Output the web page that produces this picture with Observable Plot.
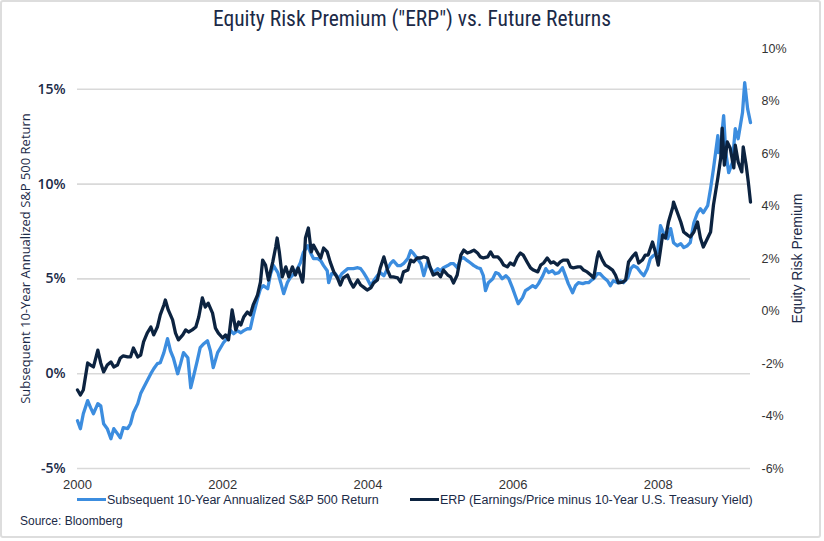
<!DOCTYPE html>
<html>
<head>
<meta charset="utf-8">
<script src="https://cdn.jsdelivr.net/npm/d3@7"></script>
<script src="https://cdn.jsdelivr.net/npm/@observablehq/plot@0.6"></script>
<style>
  body { margin: 0; background: #fff; }
  #wrap { position: relative; width: 824px; height: 541px; overflow: hidden; background: #fff;
          font-family: "Liberation Sans", Arial, sans-serif; color: #1b2a47; }
  #frame { position: absolute; left: 0px; top: 0px; width: 817px; height: 534px;
           border: 2px solid #dddddd; border-radius: 3px; }
  #title { position: absolute; left: 0; top: 6px; width: 824px; text-align: center;
           font-family: "Liberation Sans Narrow", "Roboto Condensed", Roboto, sans-serif;
           font-size: 21.5px; color: #1b2a47; }
  #chart { position: absolute; left: 0; top: 40px; }
  .leg { position: absolute; top: 493px; font-size: 12.5px; color: #1b2a47; white-space: nowrap; }
  .sw { display: inline-block; width: 29px; height: 3px; vertical-align: middle; margin-right: 1px; position: relative; top: -1px; }
  #source { position: absolute; left: 20px; top: 514px; font-size: 12px; color: #1b2a47; }
</style>
</head>
<body>
<div id="wrap">
  <div id="frame"></div>
  <div id="title">Equity Risk Premium ("ERP") vs. Future Returns</div>
  <div id="chart"></div>
  <div class="leg" style="left:77px"><span class="sw" style="background:#3c8ddf"></span>Subsequent 10-Year Annualized S&amp;P 500 Return</div>
  <div class="leg" style="left:410px"><span class="sw" style="background:#0c2340"></span>ERP (Earnings/Price minus 10-Year U.S. Treasury Yield)</div>
  <div id="source">Source: Bloomberg</div>
</div>
<script>
// ---- Data ----
const retYears = [
  2000.00,2000.04,2000.08,2000.14,2000.18,2000.22,2000.28,2000.32,2000.36,2000.41,2000.46,2000.50,2000.55,2000.59,2000.63,2000.69,2000.73,2000.77,2000.83,2000.87,2000.91,2000.96,
  2001.01,2001.05,2001.10,2001.14,2001.19,2001.24,2001.28,2001.32,2001.38,2001.42,2001.46,2001.52,2001.56,2001.60,2001.65,2001.69,2001.74,2001.79,2001.83,2001.87,2001.93,2001.97,
  2002.01,2002.07,2002.11,2002.15,2002.20,2002.25,2002.29,2002.34,2002.38,2002.42,2002.48,2002.52,2002.56,2002.62,2002.66,2002.70,2002.76,2002.80,2002.84,2002.89,2002.93,2002.98,
  2003.03,2003.07,2003.11,2003.17,2003.21,2003.25,2003.31,2003.35,2003.39,2003.44,2003.46,2003.50,2003.55,2003.60,2003.64,2003.72,2003.76,2003.80,2003.86,2003.90,2003.94,2003.99,
  2004.04,2004.08,2004.13,2004.17,2004.22,2004.27,2004.31,2004.35,2004.41,2004.45,2004.49,2004.55,2004.59,2004.63,2004.68,2004.73,2004.77,2004.82,2004.86,2004.90,2004.96,
  2005.00,2005.04,2005.10,2005.14,2005.18,2005.23,2005.28,2005.32,2005.37,2005.41,2005.46,2005.51,2005.55,2005.59,2005.62,2005.66,2005.72,2005.76,2005.80,2005.85,2005.90,2005.94,2005.99,
  2006.03,2006.07,2006.13,2006.17,2006.21,2006.27,2006.31,2006.35,2006.41,2006.45,2006.49,2006.54,2006.58,2006.63,2006.68,2006.72,2006.76,2006.82,2006.86,2006.90,2006.96,
  2007.00,2007.04,2007.07,2007.11,2007.16,2007.20,2007.25,2007.30,2007.34,2007.38,2007.44,2007.48,2007.52,2007.58,2007.62,2007.66,2007.71,2007.76,2007.80,2007.85,2007.89,2007.93,2007.99,
  2008.03,2008.07,2008.13,2008.17,2008.21,2008.26,2008.31,2008.35,2008.40,2008.44,2008.49,2008.54,2008.58,2008.62,2008.68,2008.72,2008.76,2008.82,2008.83,2008.86,2008.90,2008.93,2008.97,
  2009.02,2009.06,2009.10,2009.16,2009.19,2009.23,2009.27
];
const retValues = [
  -2.48,-2.90,-2.11,-1.42,-1.79,-2.11,-1.58,-1.69,-2.64,-2.90,-3.43,-2.90,-3.16,-3.38,-2.85,-2.90,-2.64,-2.06,-1.58,-1.05,-0.74,-0.37,
  0.00,0.26,0.53,0.58,1.11,1.85,1.21,0.84,0.00,0.53,1.11,0.84,-0.74,-0.11,0.69,1.37,1.58,1.74,1.21,0.32,1.11,1.37,
  1.63,1.90,2.27,2.11,2.27,2.16,2.27,2.37,2.37,3.06,3.96,4.48,4.64,4.48,5.27,5.70,5.33,4.80,4.22,4.80,5.06,5.27,
  5.54,5.85,6.38,6.75,6.38,6.07,6.07,5.96,5.70,5.43,4.80,5.27,5.27,5.01,5.27,5.54,5.54,5.54,5.59,5.54,5.33,5.01,
  4.64,4.90,5.17,5.33,5.17,5.54,5.80,5.96,5.70,5.70,5.80,6.07,6.49,6.33,6.07,5.80,5.17,5.85,5.59,5.33,5.54,
  5.43,5.59,5.70,5.80,5.80,5.59,6.07,6.12,5.96,5.85,5.70,5.59,5.54,5.17,4.38,4.80,5.01,5.33,5.27,5.01,5.17,5.01,4.54,
  4.11,3.69,4.01,4.38,4.48,4.64,4.54,4.75,5.17,5.54,5.33,5.43,5.27,5.33,5.59,5.17,4.75,4.27,4.64,4.80,4.75,
  4.80,4.80,4.90,5.01,5.27,5.27,5.06,4.90,4.64,4.90,4.80,4.90,4.80,5.06,5.54,5.70,5.59,5.33,5.17,5.54,6.07,6.22,6.38,
  7.81,7.44,7.12,7.65,6.91,6.75,6.86,6.65,6.75,6.91,7.96,8.49,8.70,8.49,8.86,9.76,10.81,12.55,11.66,12.02,13.61,11.66,10.60,
  11.13,12.92,12.39,13.77,15.35,13.98,13.24
];
const erpYears = [
  2000.00,2000.04,2000.08,2000.14,2000.18,2000.22,2000.28,2000.32,2000.36,2000.41,2000.46,2000.50,2000.55,2000.59,2000.63,2000.69,2000.73,2000.77,2000.83,2000.87,2000.91,2000.96,
  2001.01,2001.05,2001.10,2001.14,2001.19,2001.21,2001.25,2001.31,2001.35,2001.39,2001.45,2001.49,2001.53,2001.58,2001.63,2001.67,2001.72,2001.76,2001.80,2001.86,2001.90,2001.94,
  2002.00,2002.04,2002.08,2002.13,2002.18,2002.22,2002.25,2002.29,2002.34,2002.38,2002.42,2002.48,2002.52,2002.55,2002.59,2002.63,2002.69,2002.73,2002.75,2002.78,2002.82,2002.87,2002.91,2002.96,
  2003.00,2003.04,2003.10,2003.11,2003.14,2003.18,2003.22,2003.25,2003.31,2003.35,2003.39,2003.44,2003.48,2003.53,2003.58,2003.62,2003.66,2003.72,2003.76,2003.80,2003.86,2003.90,2003.94,2003.99,
  2004.04,2004.08,2004.13,2004.17,2004.22,2004.27,2004.31,2004.35,2004.41,2004.45,2004.49,2004.55,2004.59,2004.63,2004.68,2004.73,2004.77,2004.82,2004.86,2004.90,2004.96,
  2005.00,2005.04,2005.10,2005.14,2005.18,2005.23,2005.28,2005.32,2005.37,2005.41,2005.46,2005.51,2005.55,2005.59,2005.65,2005.69,2005.73,2005.79,2005.83,2005.87,2005.92,2005.96,
  2006.01,2006.06,2006.10,2006.14,2006.20,2006.24,2006.28,2006.34,2006.38,2006.42,2006.47,2006.52,2006.56,2006.61,2006.65,2006.69,2006.75,2006.79,2006.83,2006.89,2006.93,2006.97,
  2007.02,2007.07,2007.11,2007.16,2007.18,2007.23,2007.27,2007.31,2007.37,2007.41,2007.45,2007.51,2007.55,2007.59,2007.64,2007.69,2007.73,2007.78,2007.82,2007.86,2007.92,2007.96,
  2008.00,2008.06,2008.10,2008.14,2008.20,2008.21,2008.26,2008.31,2008.35,2008.40,2008.44,2008.49,2008.54,2008.58,2008.62,2008.68,2008.72,2008.76,2008.82,2008.86,2008.88,2008.91,2008.95,2008.99,
  2009.04,2009.06,2009.10,2009.15,2009.17,2009.21,2009.24,2009.27
];
const erpValues = [
  -3.01,-3.20,-3.01,-1.98,-2.06,-2.13,-1.49,-1.98,-2.32,-2.06,-1.94,-2.13,-2.06,-1.79,-1.71,-1.75,-1.75,-1.41,-1.75,-1.68,-1.18,-0.84,
  -0.61,-0.91,-0.61,-0.15,0.23,0.42,0.04,-0.34,-0.84,-1.10,-0.91,-0.72,-0.80,-0.72,-0.61,-0.23,0.50,0.15,0.30,-0.08,-0.65,-0.84,
  -1.03,-0.91,-1.10,0.04,-0.72,-0.42,-0.53,-0.23,-0.04,-0.15,0.23,0.61,1.10,1.94,1.75,1.18,1.87,2.44,2.78,2.25,1.30,1.68,1.30,1.68,
  1.37,1.64,1.10,1.30,2.78,3.16,2.25,2.51,2.21,2.02,2.40,2.25,1.87,1.49,1.26,0.99,1.26,1.37,1.10,0.91,1.18,0.99,0.91,0.80,
  0.88,1.07,1.18,1.64,2.06,1.56,1.30,1.30,1.26,1.10,1.49,1.56,1.94,1.87,2.02,2.02,2.06,2.02,1.64,1.37,1.45,
  1.30,1.56,1.37,1.30,1.07,1.37,2.13,2.32,2.21,2.25,2.32,2.21,2.06,2.02,2.06,2.25,2.06,2.06,1.94,1.75,1.68,1.83,
  1.75,2.06,2.21,2.13,1.83,1.64,1.56,1.49,1.75,1.83,2.02,1.83,1.87,1.75,1.87,1.94,1.94,1.68,1.64,1.68,1.68,1.56,
  1.49,1.37,1.26,2.06,2.25,1.94,1.75,1.68,1.56,1.37,1.07,1.10,1.18,1.87,2.06,2.21,1.83,1.94,2.13,2.13,2.63,2.25,
  1.75,2.90,2.78,3.39,3.96,4.15,3.77,3.39,3.01,2.90,2.82,3.01,3.39,2.78,2.44,2.78,3.01,4.04,5.07,5.83,6.97,5.56,6.44,6.21,
  5.45,6.32,5.68,5.30,6.25,5.56,4.91,4.15
];
const leftTicks = [-5, 0, 5, 10, 15];
const rightTicks = [-6, -4, -2, 0, 2, 4, 6, 8, 10];
const xTicks = [2000, 2002, 2004, 2006, 2008];
const leftLabel = "Subsequent 10-Year Annualized S&P 500 Return";
const rightLabel = "Equity Risk Premium";

// ---- Build tables ----
const ret = retYears.slice(0, Math.min(retYears.length, retValues.length)).map((y, i) => ({year: y, value: retValues[i]}));
const erp = erpYears.slice(0, Math.min(erpYears.length, erpValues.length)).map((y, i) => ({year: y, value: erpValues[i]}));

const blue = "#3c8ddf", navy = "#0c2340", ink = "#1b2a47";
const leftDomain = [-5, 17.15], rightDomain = [-6, 10];
const k = (leftDomain[1] - leftDomain[0]) / (rightDomain[1] - rightDomain[0]);
const toLeft = e => leftDomain[0] + (e - rightDomain[0]) * k;
const fromLeft = v => rightDomain[0] + (v - leftDomain[0]) / k;

const chart = Plot.plot({
  width: 824,
  height: 455,
  marginLeft: 77,
  marginRight: 74,
  marginTop: 8,
  marginBottom: 27,
  style: {background: "transparent", overflow: "visible", fontFamily: "Liberation Sans, Arial, sans-serif"},
  x: {domain: [2000, 2009.27]},
  y: {domain: leftDomain},
  marks: [
    Plot.gridY(leftTicks, {stroke: "#d9d9d9", strokeOpacity: 1, strokeWidth: 1.6}),
    Plot.axisY(leftTicks, {anchor: "left", tickSize: 0, tickPadding: 12, label: null,
      tickFormat: d => `${d}%`, fontSize: 14, fontWeight: 600, fontFamily: "Open Sans, sans-serif", fill: ink}),
    Plot.axisY(rightTicks.map(toLeft), {anchor: "right", tickSize: 0, tickPadding: 11, label: null,
      tickFormat: v => `${Math.round(fromLeft(v))}%`, fontSize: 12.5, fill: "#333"}),
    Plot.axisX(xTicks, {anchor: "bottom", tickSize: 0, tickPadding: 11, label: null,
      tickFormat: d => String(d), fontSize: 13, fill: "#333"}),
    Plot.line(ret, {x: "year", y: "value", stroke: blue, strokeWidth: 3.3, strokeLinejoin: "round"}),
    Plot.line(erp, {x: "year", y: d => toLeft(d.value), stroke: navy, strokeWidth: 3.3, strokeLinejoin: "round"}),
    Plot.text([leftLabel], {frameAnchor: "left", textAnchor: "middle", dx: -52, rotate: -90, text: d => d, fontSize: 13,
      fontFamily: "Open Sans, sans-serif", fill: ink}),
    Plot.text([rightLabel], {frameAnchor: "right", textAnchor: "middle", dx: 47, rotate: -90, text: d => d, fontSize: 14,
      fill: ink})
  ]
});
document.getElementById("chart").appendChild(chart);
</script>
</body>
</html>
